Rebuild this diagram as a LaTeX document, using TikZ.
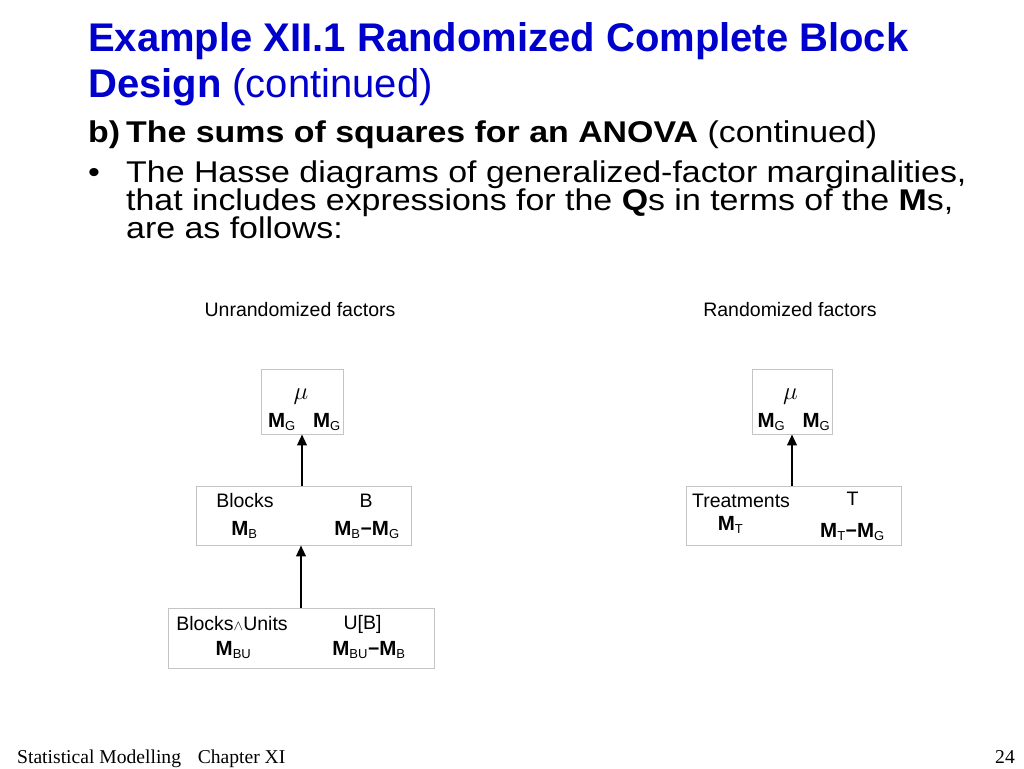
\documentclass[tikz,border=0pt]{standalone}
\usepackage{fontspec}
\setmainfont{Liberation Sans}
\newfontfamily\bodyfont[FakeStretch=1.13]{Liberation Sans}
\newfontfamily\footfont{Liberation Serif}
\usepackage{tikz}
\usetikzlibrary{positioning,arrows.meta}
\definecolor{titleblue}{RGB}{0,0,204}
\definecolor{boxgrey}{RGB}{196,196,196}
\newcommand{\Mb}[1]{{\fontsize{20.5}{22}\selectfont\textbf{M}}\textsubscript{\fontsize{13}{14}\selectfont #1}}
\newcommand{\mnus}{\textbf{\textminus}}
\newcommand{\tightlines}{\lineskiplimit=-20pt\relax}
\tikzset{
  ttl/.style  ={anchor=base west, inner sep=0pt, text=titleblue,
                font=\fontsize{40}{45}\selectfont},
  body/.style ={anchor=base west, inner sep=0pt, align=left,
                font={\bodyfont\fontsize{30}{28}\selectfont\tightlines}},
  capt/.style ={inner sep=0pt, font=\fontsize{19.5}{22}\selectfont},
  lbl/.style  ={anchor=base, inner sep=0pt, font=\fontsize{19.5}{22}\selectfont},
  hbox/.style ={draw=boxgrey, line width=0.8pt, inner sep=0pt},
  up/.style   ={-{Triangle[length=11pt,width=9.5pt]}, line width=2.3pt},
  foot/.style ={anchor=base west, inner sep=0pt, font=\footfont\fontsize{19.6}{22}\selectfont},
}

\begin{document}
\begin{tikzpicture}[x=1pt,y=-1pt]
\useasboundingbox (0,0) rectangle (1024,768);
% slide text
\node[ttl] (t1) at (88,52) {\textbf{Example XII.1 Randomized Complete Block}};
\node[ttl] (t2) at (88,97) {\textbf{Design} (continued)};
\node[body] (b0) at (88,142) {\textbf{b)}};
\node[body] (b1) at (126,142) {\textbf{The sums of squares for an ANOVA} (continued)};
\node[body] (dot) at (88,182) {\textbullet};
% three lines, base is the last one
\node[body] (l1) at (126,238) {The Hasse diagrams of generalized-factor marginalities,\\
  that includes expressions for the \textbf{Q}s in terms of the \textbf{M}s,\\
  are as follows:};

% captions
\node[capt] (cunr) at (300,310) {Unrandomized factors};
\node[capt] (crnd) at (790,310) {Randomized factors};

% boxes
\node[hbox, minimum width=82pt, minimum height=65pt] (mu1) at (302,401.5) {};
\node[hbox, minimum width=215pt, minimum height=59pt] (blk) at (303.5,515.5) {};
\node[hbox, minimum width=266pt, minimum height=60pt] (bu) at (301,638) {};
\node[hbox, minimum width=80pt, minimum height=65pt] (mu2) at (792,401.5) {};
\node[hbox, minimum width=215pt, minimum height=59pt] (trt) at (793.5,515.5) {};

% unrandomized
\node[lbl, font=\fontsize{23}{24}\selectfont] (mua) at (301,399) {$\mu$};
\node[lbl] (mga) at (282,427) {\Mb{G}};
\node[lbl] (mgb) at (327,427) {\Mb{G}};
\node[lbl] (blks) at (245,507) {Blocks};
\node[lbl] (bb) at (366,507) {B};
\node[lbl] (mbb) at (244.5,535) {\Mb{B}};
\node[lbl] (qb) at (367,535) {\Mb{B}\mnus\Mb{G}};
\node[lbl] (bun) at (232,630) {Blocks$\scriptstyle\wedge$Units};
\node[lbl] (ub) at (362.5,629) {U[B]};
\node[lbl] (mbu) at (233.5,655) {\Mb{BU}};
\node[lbl] (qbu) at (369,655) {\Mb{BU}\mnus\Mb{B}};

% randomized
\node[lbl, font=\fontsize{23}{24}\selectfont] (mur) at (790.5,399) {$\mu$};
\node[lbl] (mgc) at (771.5,427) {\Mb{G}};
\node[lbl] (mgd) at (816.5,427) {\Mb{G}};
\node[lbl] (trts) at (741,507) {Treatments};
\node[lbl] (tt) at (852.5,505) {T};
\node[lbl] (mtt) at (730.5,530) {\Mb{T}};
\node[lbl] (qt) at (852.5,537) {\Mb{T}\mnus\Mb{G}};

% marginality arrows
\draw[up] (blk.north -| mu1.south) -- (mu1.south);
\draw[up] (bu.north) -- (bu.north |- blk.south);
\draw[up] (trt.north -| mu2.south) -- (mu2.south);

% footer
\node[foot] (ft) at (17,763) {Statistical Modelling\hspace{0.6em} Chapter XI};
\node[foot] (pg) at (995,763) {24};
\end{tikzpicture}
\end{document}
